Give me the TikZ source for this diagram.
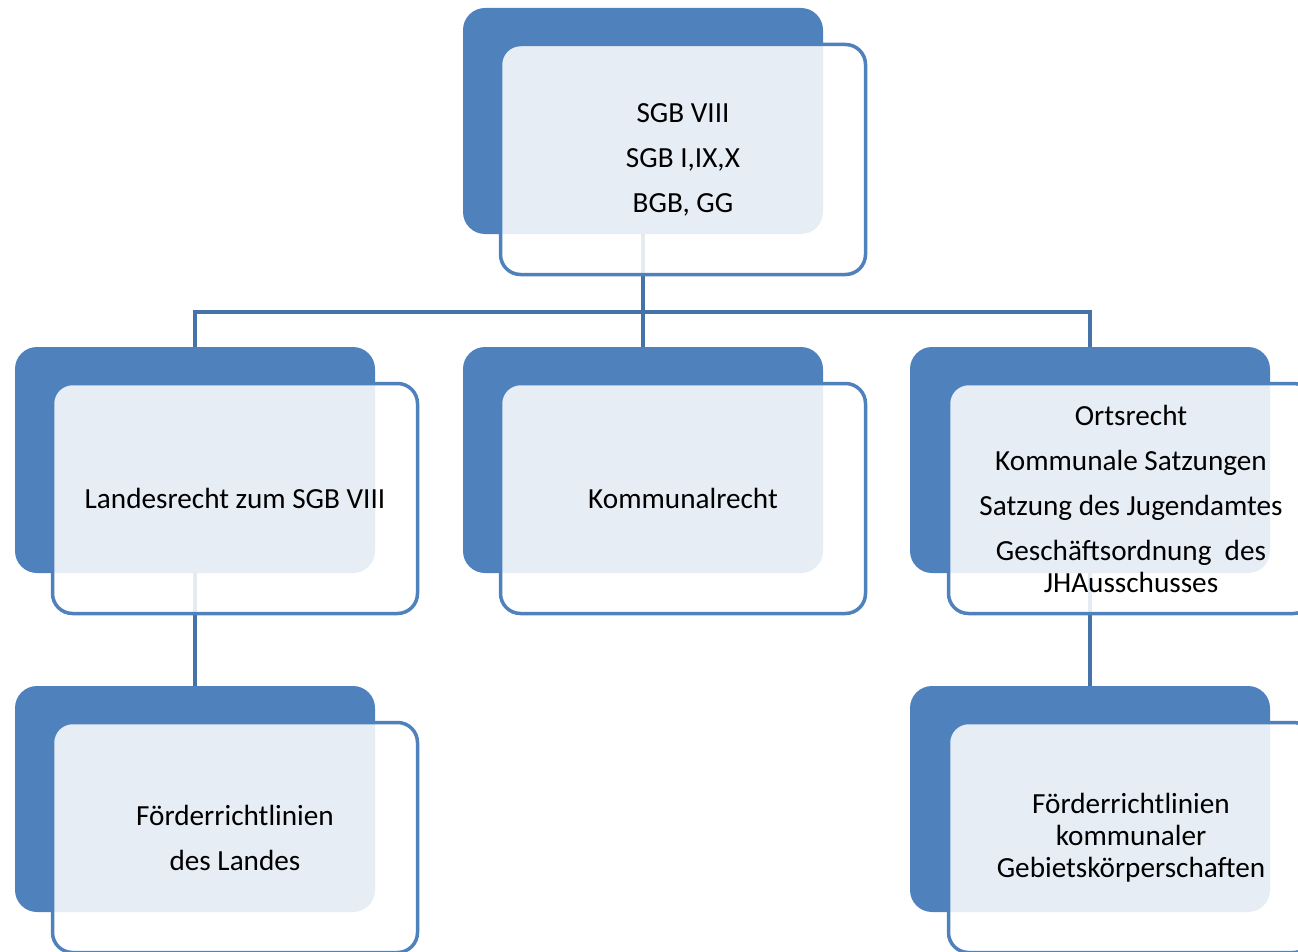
\documentclass[tikz,border=0pt]{standalone}
\usepackage{fontspec}
\setmainfont{Carlito}
\usetikzlibrary{calc,positioning,backgrounds}
\definecolor{boxblue}{HTML}{4F81BD}
\definecolor{wireblue}{HTML}{4672AA}
\tikzset{
  front/.style = {draw=boxblue, line width=3.5pt, fill=white, fill opacity=0.86,
                  text opacity=1, rounded corners=20pt, minimum width=365pt,
                  minimum height=230pt, align=center, inner sep=0pt,
                  font=\fontsize{29.2}{32}\selectfont},
  back/.style  = {fill=boxblue, rounded corners=22pt, minimum width=360pt,
                  minimum height=226pt, inner sep=0pt},
  conn/.style  = {draw=wireblue, line width=4.5pt},
}

\begin{document}
\begin{tikzpicture}[x=1pt,y=-1pt]
  \useasboundingbox (0,0) rectangle (1298,952);
  \node[front] (sgb) at (683,159.5) {SGB VIII\\[13pt]SGB I,IX,X\\[13pt]BGB, GG};
  \node[front] (landes) at (235,498.5) {Landesrecht zum SGB VIII};
  \node[front] (kommunal) at (683,498.5) {Kommunalrecht};
  \node[front] (orts) at (1131,498.5) {Ortsrecht\\[13pt]Kommunale Satzungen\\[13pt]Satzung des Jugendamtes\\[13pt]Geschäftsordnung~ des\\JHAusschusses};
  \node[front] (frland) at (235,837.5) {Förderrichtlinien\\[13pt]des Landes};
  \node[front] (frkomm) at (1131,837.5) {Förderrichtlinien\\kommunaler\\Gebietskörperschaften};
  \begin{scope}[on background layer]
    \node[back] (sgbB) at ($(sgb)+(-40,-38.5)$) {};
    \node[back] (landesB) at ($(landes)+(-40,-38.5)$) {};
    \node[back] (kommunalB) at ($(kommunal)+(-40,-38.5)$) {};
    \node[back] (ortsB) at ($(orts)+(-41,-38.5)$) {};
    \node[back] (frlandB) at ($(frland)+(-40,-38.5)$) {};
    \node[back] (frkommB) at ($(frkomm)+(-41,-38.5)$) {};
    \coordinate (bus) at (643,312);
    % tree lines
    \draw[conn] (sgbB.south) -- (bus);
    \draw[conn] (landesB.north) |- (bus) -| (ortsB.north);
    \draw[conn] (bus) -- (kommunalB.north);
    \draw[conn] (landesB.south) -- (frlandB.north);
    \draw[conn] (ortsB.south) -- (frkommB.north);
  \end{scope}
\end{tikzpicture}
\end{document}
